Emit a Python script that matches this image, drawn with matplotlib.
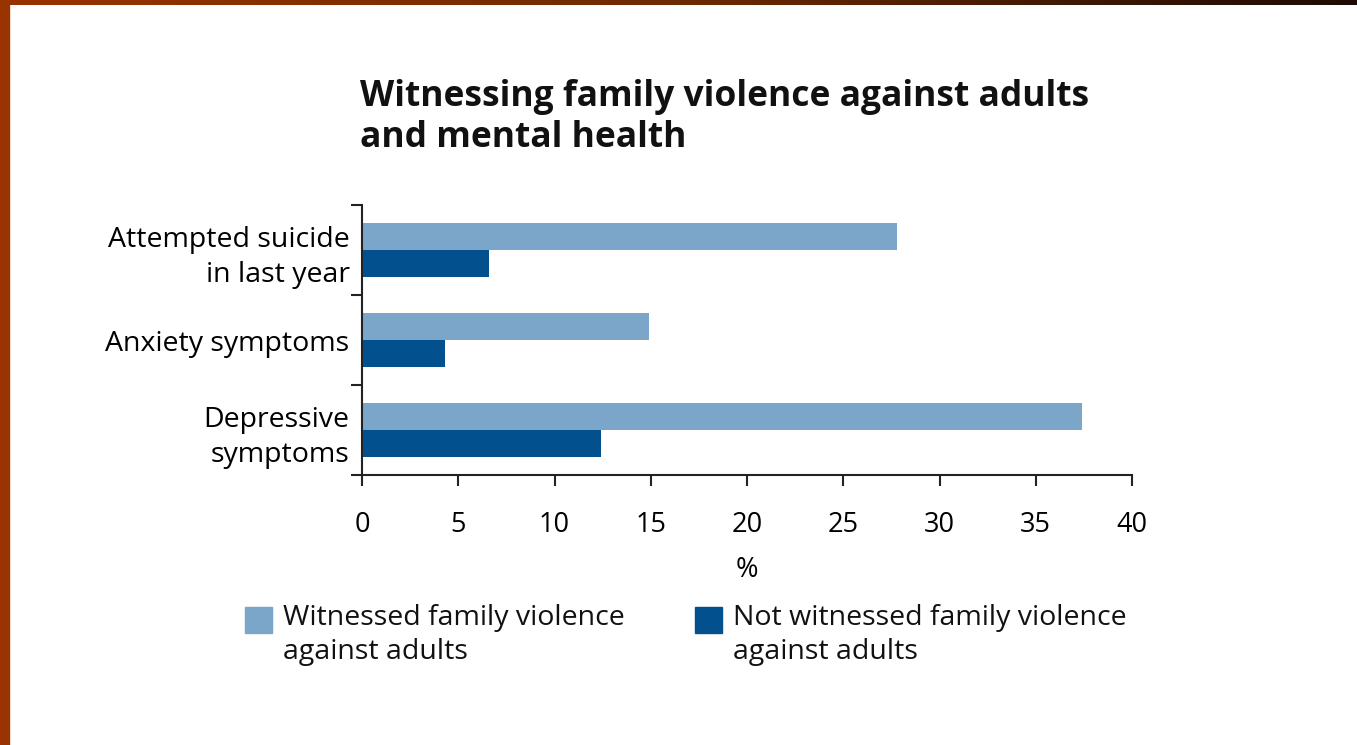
import matplotlib
matplotlib.use('Agg')
import matplotlib.pyplot as plt
from matplotlib.patches import Rectangle
from matplotlib.colors import LinearSegmentedColormap
import numpy as np

plt.rcParams['font.family'] = ['Open Sans', 'DejaVu Sans']

categories = ['Attempted suicide\nin last year', 'Anxiety symptoms', 'Depressive\nsymptoms']
witnessed = [27.8, 14.9, 37.4]
not_witnessed = [6.6, 4.3, 12.4]
series_labels = ['Witnessed family violence\nagainst adults',
                 'Not witnessed family violence\nagainst adults']
colors = ['#7ba6c9', '#03508f']
xticks = [0, 5, 10, 15, 20, 25, 30, 35, 40]
title = 'Witnessing family violence against adults\nand mental health'

W, H = 1357, 745
fig = plt.figure(figsize=(W / 100, H / 100), dpi=100)

# slide frame: brown bar on the left, gradient strip at the top
fig.patches.append(Rectangle((0, 0), 9 / W, 1, transform=fig.transFigure,
                             color='#993300', zorder=0))
top = fig.add_axes([0, 1 - 5 / H, 1, 5 / H])
grad = np.linspace(0, 1, 256)[None, :]
cmap = LinearSegmentedColormap.from_list('frame', ['#993300', '#6e2a00', '#1e0a04'])
top.imshow(grad, aspect='auto', cmap=cmap, extent=[0, 1, 0, 1])
top.axis('off')

ax = fig.add_axes([362 / W, 270 / H, 770 / W, 270 / H])
y = np.arange(len(categories))
h = 0.305
ax.barh(y - h / 2, witnessed, height=h, color=colors[0], zorder=2)
ax.barh(y + h / 2, not_witnessed, height=h, color=colors[1], zorder=2)

ax.set_ylim(len(categories) - 0.5, -0.5)
ax.set_xlim(0, 40)
ax.set_xticks(xticks)
ax.set_xticklabels([str(t) for t in xticks], fontsize=19.5)
ax.set_yticks(y)
ax.set_yticklabels(categories, fontsize=20.5, ha='right', multialignment='right',
                   linespacing=1.35)
ax.set_yticks(np.arange(len(categories) + 1) - 0.5, minor=True)
ax.tick_params(axis='y', which='major', length=0, pad=9)
ax.tick_params(axis='y', which='minor', length=8, width=1.5, direction='out', color='#222222')
ax.tick_params(axis='x', length=8, width=1.5, direction='out', color='#222222', pad=18)
for s in ['top', 'right']:
    ax.spines[s].set_visible(False)
for s in ['left', 'bottom']:
    ax.spines[s].set_linewidth(1.5)
    ax.spines[s].set_color('#222222')
ax.set_xlabel('%', fontsize=19.5, labelpad=12)

fig.text(360 / W, 1 - 79 / H, title, fontsize=25.5, fontweight='bold',
         va='top', ha='left', linespacing=1.2, color='#111111')

# legend drawn by hand
leg_x = [245, 695]
for lx, lab, c in zip(leg_x, series_labels, colors):
    fig.patches.append(Rectangle((lx / W, 1 - 633 / H), 27 / W, 26 / H,
                                 transform=fig.transFigure, color=c))
    fig.text((lx + 38) / W, 1 - 604 / H, lab, fontsize=20.5, va='top', ha='left',
             linespacing=1.3, color='#111111')

fig.savefig('out.png', dpi=100)
